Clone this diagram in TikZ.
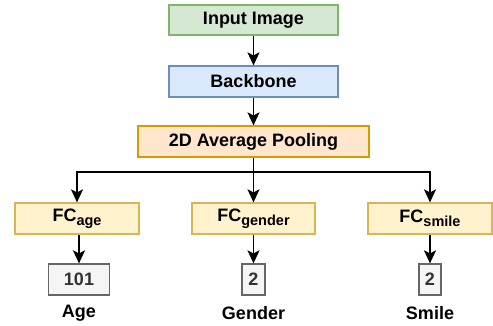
\documentclass[tikz,border=0pt]{standalone}
\usepackage{fontspec}
\setmainfont{Liberation Sans}
\usetikzlibrary{arrows.meta}

\definecolor{inFill}{HTML}{D5E8D4}
\definecolor{inLine}{HTML}{82B366}
\definecolor{bbFill}{HTML}{DAE8FC}
\definecolor{bbLine}{HTML}{6C8EBF}
\definecolor{poolFill}{HTML}{FFE6CC}
\definecolor{poolLine}{HTML}{D79B00}
\definecolor{fcFill}{HTML}{FFF2CC}
\definecolor{fcLine}{HTML}{D6B656}
\definecolor{outFill}{HTML}{F5F5F5}
\definecolor{outLine}{HTML}{666666}
\definecolor{outText}{HTML}{333333}

\newcommand{\headsub}[1]{\raisebox{-4pt}{\fontsize{14.5}{15}\selectfont #1}}

\begin{document}
\begin{tikzpicture}[x=1pt,y=-1pt,
	box/.style={draw,line width=1.2pt,minimum height=31pt,inner sep=0pt,
		font=\fontsize{18}{20}\selectfont\bfseries},
	outbox/.style={box,fill=outFill,draw=outLine,text=outText},
	lbl/.style={font=\fontsize{18}{20}\selectfont\bfseries},
	arr/.style={line width=1.5pt,-{Stealth[length=13pt,width=12pt,inset=3pt]}}]
	\useasboundingbox (0,0) rectangle (493,326);
	\begin{scope}
		% stem
		\node[box,fill=inFill,draw=inLine,minimum width=169pt,minimum height=30pt] (input) at (253.5,20) {Input Image};
		\node[box,fill=bbFill,draw=bbLine,minimum width=169pt] (backbone) at (253.5,81.5) {Backbone};
		\node[box,fill=poolFill,draw=poolLine,minimum width=231pt] (pool) at (253.5,141.5) {2D Average Pooling};

		% heads
		\node[box,fill=fcFill,draw=fcLine,minimum width=124pt] (fcage) at (77,218.5) {FC\headsub{age}};
		\node[box,fill=fcFill,draw=fcLine,minimum width=123pt] (fcgender) at (253.5,218.5) {FC\headsub{gender}};
		\node[box,fill=fcFill,draw=fcLine,minimum width=124pt] (fcsmile) at (430,218.5) {FC\headsub{smile}};

		% outputs
		\node[outbox,minimum width=61pt] (outage) at (79,279.5) {101};
		\node[outbox,minimum width=23pt] (outgender) at (253.5,279.5) {2};
		\node[outbox,minimum width=22pt] (outsmile) at (430,279.5) {2};
		\node[lbl] (lblage) at (79,313) {Age};
		\node[lbl] (lblgender) at (253.5,313) {Gender};
		\node[lbl] (lblsmile) at (430,313) {Smile};

		% arrows
		\coordinate (split) at (253.5,172);
		\draw[arr] (input) -- (backbone);
		\draw[arr] (backbone) -- (pool);
		\draw[arr] (pool) -- (fcgender);
		\draw[arr] (split) -| (fcage);
		\draw[arr] (split) -| (fcsmile);
		\draw[arr] (fcage.south -| outage) -- (outage);
		\draw[arr] (fcgender) -- (outgender);
		\draw[arr] (fcsmile) -- (outsmile);
	\end{scope}
\end{tikzpicture}
\end{document}
